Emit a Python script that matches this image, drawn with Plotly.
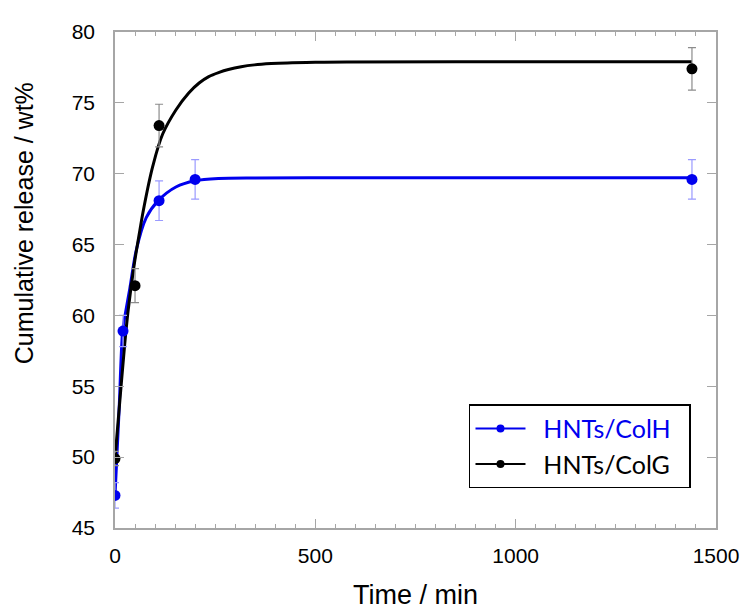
import plotly.graph_objects as go

# Measured data points (time in min, cumulative release wt%)
colh_t = [0, 20, 110, 200, 1440]
colh_y = [47.3, 58.9, 68.1, 69.6, 69.6]
colh_err = [0.9, 1.1, 1.4, 1.4, 1.4]

colg_t = [0, 50, 110, 1440]
colg_y = [49.9, 62.1, 73.4, 77.4]
colg_err = [0.5, 1.2, 1.5, 1.5]

# Fitted curves, points
colh_fit_t = [0, 10, 19, 25, 37, 53, 78, 108, 152, 200, 258, 350, 578, 1000, 1440]
colh_fit_y = [47.3, 53.2, 58.9, 60.0, 61.9, 64.6, 66.9, 68.1, 69.06, 69.5, 69.66, 69.7, 69.72, 69.72, 69.72]

colg_fit_t = [0, 16, 25, 33, 48, 62, 72, 94, 119, 152, 184, 210, 234, 260, 283, 315, 348, 390, 430, 500, 578, 1000, 1440]
colg_fit_y = [49.9, 55.3, 58.2, 60.4, 63.6, 66.0, 67.6, 70.5, 72.8, 74.5, 75.7, 76.4, 76.85, 77.15, 77.35, 77.55, 77.68, 77.77, 77.82, 77.86, 77.88, 77.9, 77.9]

x_ticks = [0, 500, 1000, 1500]
y_ticks = [45, 50, 55, 60, 65, 70, 75, 80]

BLUE = "#0000EE"
BLACK = "#000000"
NB = "\u00a0"

fig = go.Figure()

fig.add_trace(go.Scatter(x=colh_fit_t, y=colh_fit_y, mode="lines",
                         line=dict(color=BLUE, width=3, shape="spline", smoothing=0.8),
                         showlegend=False, hoverinfo="skip"))
fig.add_trace(go.Scatter(x=colg_fit_t, y=colg_fit_y, mode="lines",
                         line=dict(color=BLACK, width=3, shape="spline", smoothing=1.0),
                         showlegend=False, hoverinfo="skip"))

fig.add_trace(go.Scatter(x=colh_t, y=colh_y, mode="markers",
                         marker=dict(color=BLUE, size=11),
                         error_y=dict(type="data", array=colh_err, color="#9a9aff",
                                      thickness=1.2, width=4),
                         showlegend=False))
fig.add_trace(go.Scatter(x=colg_t, y=colg_y, mode="markers",
                         marker=dict(color=BLACK, size=11),
                         error_y=dict(type="data", array=colg_err, color="#8c8c8c",
                                      thickness=1.2, width=4),
                         showlegend=False))

# legend entries
fig.add_trace(go.Scatter(x=[None], y=[None], mode="lines+markers",
                         line=dict(color=BLUE, width=2), marker=dict(color=BLUE, size=8),
                         name=NB * 2 + "<span style='color:#0000EE'>HNTs/ColH</span>" + NB * 2))
fig.add_trace(go.Scatter(x=[None], y=[None], mode="lines+markers",
                         line=dict(color=BLACK, width=2), marker=dict(color=BLACK, size=8),
                         name=NB * 2 + "HNTs/ColG" + NB * 2))

axis_common = dict(showline=True, linecolor="#a6a6a6", linewidth=1.5, mirror="ticks",
                   ticks="inside", tickcolor="#a6a6a6", tickwidth=1.2, ticklen=9,
                   showgrid=False, zeroline=False,
                   tickfont=dict(family="Liberation Sans, Arial", size=21, color="#000"))

fig.update_xaxes(range=[0, 1500], tickvals=x_ticks, ticktext=[str(v) for v in x_ticks],
                 minor=dict(dtick=50, ticks="inside", ticklen=4, tickcolor="#a6a6a6", tickwidth=1),
                 ticklabelstandoff=8, **axis_common)
fig.update_yaxes(range=[45, 80], tickvals=y_ticks, ticktext=[str(v) for v in y_ticks],
                 ticklabelstandoff=14, **axis_common)

fig.add_annotation(text="Cumulative release / wt%", xref="paper", yref="paper",
                   x=-0.151, y=0.615, textangle=-90, showarrow=False,
                   xanchor="center", yanchor="middle",
                   font=dict(family="Liberation Sans, Arial", size=25, color="#000"))
fig.add_annotation(text="Time / min", xref="paper", yref="paper",
                   x=0.5, y=-0.135, showarrow=False, xanchor="center", yanchor="middle",
                   font=dict(family="Liberation Sans, Arial", size=27, color="#000"))

# page body has an 8px margin, so the figure is sized/offset to compensate
fig.update_layout(
    width=743, height=606,
    margin=dict(l=107, r=26, t=17, b=86),
    paper_bgcolor="white", plot_bgcolor="white",
    legend=dict(x=0.589, y=0.2495, xanchor="left", yanchor="top",
                bordercolor="#000", borderwidth=1.5, bgcolor="white",
                font=dict(family="Lato", size=25, color="#000"),
                itemwidth=50, tracegroupgap=0),
)

fig.write_html("out.html")
